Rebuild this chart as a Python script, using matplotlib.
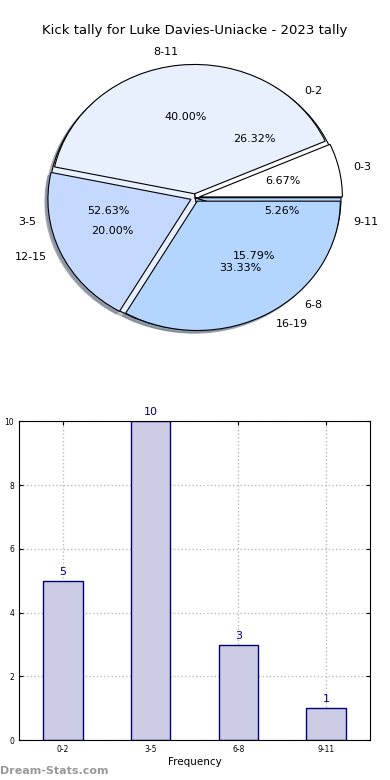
import matplotlib
matplotlib.use("Agg")
import matplotlib.pyplot as plt

# pie 1: kicks per game buckets (last season ranges)
pie1_labels = ["0-2", "3-5", "6-8", "9-11"]
pie1_values = [5, 10, 3, 1]
# pie 2: second set of ranges drawn over the first
pie2_labels = ["0-3", "8-11", "12-15", "16-19"]
pie2_values = [1, 6, 3, 5]

bar_labels = ["0-2", "3-5", "6-8", "9-11"]
bar_values = [5, 10, 3, 1]

colors = ["#ffffff", "#e8f0fe", "#c5d9fe", "#b3d5fe"]
shadow = {"ox": -0.015, "oy": -0.015, "shade": 0.45}

fig = plt.figure(figsize=(3.9, 7.8), dpi=100)

ax1 = fig.add_axes([0.032, 0.535, 0.936, 0.423])
ax1.pie(pie1_values, labels=pie1_labels, colors=colors, autopct="%.2f%%",
        shadow=shadow, startangle=0, wedgeprops={"edgecolor": "black", "linewidth": 0.8},
        textprops={"fontsize": 8})
ax1.pie(pie2_values, labels=pie2_labels, colors=colors, autopct="%.2f%%",
        explode=[0.03] * 4, shadow=shadow, startangle=0, radius=0.98,
        wedgeprops={"edgecolor": "black", "linewidth": 0.8},
        textprops={"fontsize": 8})
ax1.set_aspect("auto")
ax1.set_xlim(-1.25, 1.25)
ax1.set_ylim(-1.25, 1.25)
fig.text(0.5, 0.9615, "Kick tally for Luke Davies-Uniacke - 2023 tally", fontsize=9.5,
         ha="center", va="center")

ax2 = fig.add_axes([0.049, 0.051, 0.9, 0.409])
x = range(len(bar_values))
ax2.bar(x, bar_values, width=0.45, color="#ccccE4", edgecolor="navy", linewidth=1, zorder=2)
for i, v in zip(x, bar_values):
    ax2.text(i, v + 0.12, str(v), ha="center", va="bottom", color="navy", fontsize=8)
ax2.set_xlim(-0.5, 3.5)
ax2.set_ylim(0, 10)
ax2.set_xticks(list(x))
ax2.set_xticklabels(bar_labels)
ax2.set_yticks(range(0, 11, 2))
ax2.tick_params(labelsize=5.5, direction="in", top=True, right=True, length=3)
ax2.grid(True, linestyle=":", color="#bbbbbb", linewidth=1, zorder=0)
ax2.set_xlabel("Frequency", fontsize=7.5, labelpad=2)
fig.text(-0.004, 0.27, "Kick Amount", rotation=90, fontsize=7, va="center", ha="center")

fig.text(0.0, 0.005, "Dream-Stats.com", color="#999999", fontsize=8, fontweight="semibold",
         ha="left", va="bottom")

fig.savefig("out.png", dpi=100)
